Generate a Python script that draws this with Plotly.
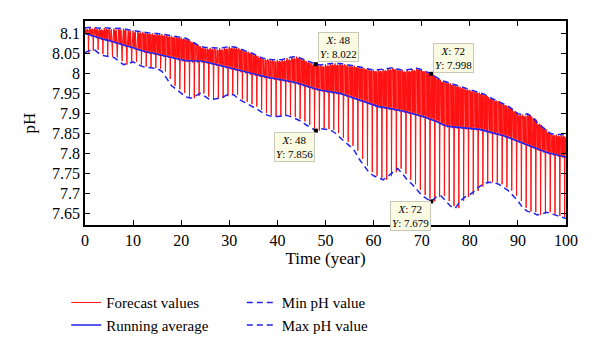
import plotly.graph_objects as go

years = list(range(0, 101))

max_ph = [8.113, 8.114, 8.113, 8.112, 8.113, 8.112, 8.111, 8.112, 8.111, 8.108,
          8.106, 8.104, 8.103, 8.101, 8.099, 8.099, 8.097, 8.095, 8.093, 8.091,
          8.089, 8.087, 8.080, 8.073, 8.066, 8.064, 8.063, 8.062, 8.062, 8.064,
          8.066, 8.065, 8.062, 8.057, 8.053, 8.048, 8.042, 8.037, 8.035, 8.033,
          8.033, 8.034, 8.037, 8.040, 8.041, 8.036, 8.030, 8.025, 8.022, 8.020,
          8.022, 8.024, 8.024, 8.024, 8.022, 8.020, 8.018, 8.016, 8.013, 8.010,
          8.008, 8.008, 8.010, 8.012, 8.013, 8.010, 8.007, 8.008, 8.010, 8.012,
          8.008, 8.003, 7.998, 7.990, 7.982, 7.978, 7.974, 7.970, 7.966, 7.962,
          7.958, 7.955, 7.951, 7.947, 7.940, 7.934, 7.929, 7.923, 7.917, 7.908,
          7.898, 7.896, 7.898, 7.890, 7.876, 7.866, 7.855, 7.848, 7.846, 7.846,
          7.845]

min_ph = [8.051, 8.056, 8.058, 8.048, 8.043, 8.041, 8.039, 8.030, 8.021, 8.024,
          8.028, 8.021, 8.016, 8.014, 8.012, 8.011, 8.004, 7.985, 7.968, 7.959,
          7.950, 7.940, 7.937, 7.943, 7.949, 7.941, 7.933, 7.935, 7.937, 7.942,
          7.948, 7.945, 7.934, 7.928, 7.922, 7.916, 7.908, 7.900, 7.894, 7.891,
          7.891, 7.893, 7.894, 7.890, 7.885, 7.879, 7.870, 7.862, 7.856, 7.861,
          7.860, 7.858, 7.850, 7.838, 7.828, 7.818, 7.806, 7.785, 7.768, 7.752,
          7.743, 7.737, 7.733, 7.742, 7.752, 7.761, 7.748, 7.733, 7.722, 7.708,
          7.695, 7.686, 7.679, 7.690, 7.693, 7.680, 7.667, 7.662, 7.680, 7.690,
          7.696, 7.705, 7.716, 7.724, 7.727, 7.726, 7.722, 7.714, 7.706, 7.693,
          7.680, 7.663, 7.654, 7.652, 7.645, 7.648, 7.652, 7.648, 7.643, 7.640,
          7.636]

running_avg = [8.099, 8.095, 8.091, 8.087, 8.084, 8.081, 8.078, 8.074, 8.070, 8.067,
               8.063, 8.059, 8.055, 8.052, 8.050, 8.047, 8.044, 8.042, 8.039, 8.036,
               8.033, 8.031, 8.030, 8.030, 8.030, 8.028, 8.025, 8.022, 8.019, 8.016,
               8.013, 8.010, 8.006, 8.003, 8.000, 7.997, 7.994, 7.991, 7.989, 7.987,
               7.985, 7.983, 7.980, 7.978, 7.975, 7.971, 7.967, 7.963, 7.960, 7.957,
               7.955, 7.953, 7.951, 7.949, 7.945, 7.941, 7.937, 7.933, 7.929, 7.925,
               7.920, 7.916, 7.914, 7.912, 7.910, 7.908, 7.905, 7.902, 7.899, 7.896,
               7.892, 7.888, 7.884, 7.879, 7.873, 7.868, 7.866, 7.865, 7.864, 7.863,
               7.862, 7.861, 7.859, 7.856, 7.853, 7.850, 7.847, 7.843, 7.839, 7.834,
               7.829, 7.824, 7.819, 7.814, 7.809, 7.805, 7.801, 7.798, 7.795, 7.792,
               7.790]

tip_x = [48, 72, 48, 72]
tip_y = [8.022, 7.998, 7.856, 7.679]

# Forecast series: within each year the value swings between the annual
# high (max_ph) and the running level, with one annual dip to the annual low.
fx, fy = [], []
for i in range(100):
    hi, lo, av = max_ph[i], min_ph[i], running_avg[i]
    pts = [(0.00, hi), (0.08, av), (0.16, hi - 0.004), (0.24, av + 0.004),
           (0.32, hi - 0.006), (0.40, av - 0.004), (0.48, hi - 0.003),
           (0.56, av + 0.003), (0.64, hi - 0.005), (0.72, lo),
           (0.80, av), (0.88, hi - 0.007), (0.95, av + 0.005)]
    for dx, v in pts:
        fx.append(i + dx)
        fy.append(v)
fx.append(100)
fy.append(max_ph[100] - 0.01)

SERIF = "Liberation Serif"
fig = go.Figure()

fig.add_trace(go.Scatter(x=fx, y=fy, mode="lines", name="Forecast values",
                         line=dict(color="#ff1010", width=1), legend="legend",
                         legendrank=1))
fig.add_trace(go.Scatter(x=years, y=running_avg, mode="lines", name="Running average",
                         line=dict(color="#2222ee", width=1.6), legend="legend",
                         legendrank=2))
fig.add_trace(go.Scatter(x=years, y=min_ph, mode="lines", name="Min pH value",
                         line=dict(color="#2222ee", width=1.5, dash="6px,4px"),
                         legend="legend2", legendrank=1))
fig.add_trace(go.Scatter(x=years, y=max_ph, mode="lines", name="Max pH value",
                         line=dict(color="#2222ee", width=1.5, dash="6px,4px"),
                         legend="legend2", legendrank=2))
fig.add_trace(go.Scatter(x=tip_x, y=tip_y, mode="markers", showlegend=False,
                         marker=dict(symbol="square", size=4, color="black")))

anchors = [("left", "bottom", 2, 2), ("left", "bottom", 2, 1),
           ("right", "top", -1, -1), ("right", "top", 0, 0)]
for (xv, yv), (xa, ya, xs, ys) in zip(zip(tip_x, tip_y), anchors):
    fig.add_annotation(x=xv, y=yv, xref="x", yref="y", showarrow=False,
                       text=f"<i>X</i>: {xv}<br><i>Y</i>: {yv:.3f}",
                       xanchor=xa, yanchor=ya, xshift=xs, yshift=ys,
                       font=dict(family=SERIF, size=11, color="black"),
                       bgcolor="#fbfbe4", bordercolor="#c8c8b8", borderwidth=1,
                       borderpad=1, align="center")

axis_common = dict(showgrid=False, zeroline=False, showline=True, linecolor="black",
                   linewidth=1.5, mirror="ticks", ticks="inside", ticklen=5,
                   tickwidth=1.2, tickcolor="black", automargin=False,
                   tickfont=dict(family=SERIF, size=16, color="black"))

fig.update_xaxes(range=[0, 100], tickvals=list(range(0, 101, 10)),
                 title=dict(text="Time (year)", font=dict(family=SERIF, size=17, color="black"),
                            standoff=2),
                 **axis_common)
fig.update_yaxes(range=[7.62, 8.13],
                 tickvals=[7.65, 7.7, 7.75, 7.8, 7.85, 7.9, 7.95, 8.0, 8.05, 8.1],
                 ticktext=["7.65", "7.7", "7.75", "7.8", "7.85", "7.9", "7.95", "8", "8.05", "8.1"],
                 title=dict(text="pH", font=dict(family=SERIF, size=17, color="black"),
                            standoff=12),
                 **axis_common)

legend_common = dict(orientation="v", bgcolor="rgba(0,0,0,0)", borderwidth=0,
                     font=dict(family=SERIF, size=15, color="black"),
                     xanchor="left", yanchor="top", tracegroupgap=0,
                     itemwidth=30)
# the page body adds an 8px offset, so the figure is sized/margined to compensate
fig.update_layout(
    width=592, height=349,
    margin=dict(l=77, r=34, t=13, b=132, autoexpand=False),
    paper_bgcolor="white", plot_bgcolor="white",
    legend=dict(x=-0.039, y=-0.30, **legend_common),
    legend2=dict(x=0.326, y=-0.30, **legend_common),
)

fig.write_html("out.html")
